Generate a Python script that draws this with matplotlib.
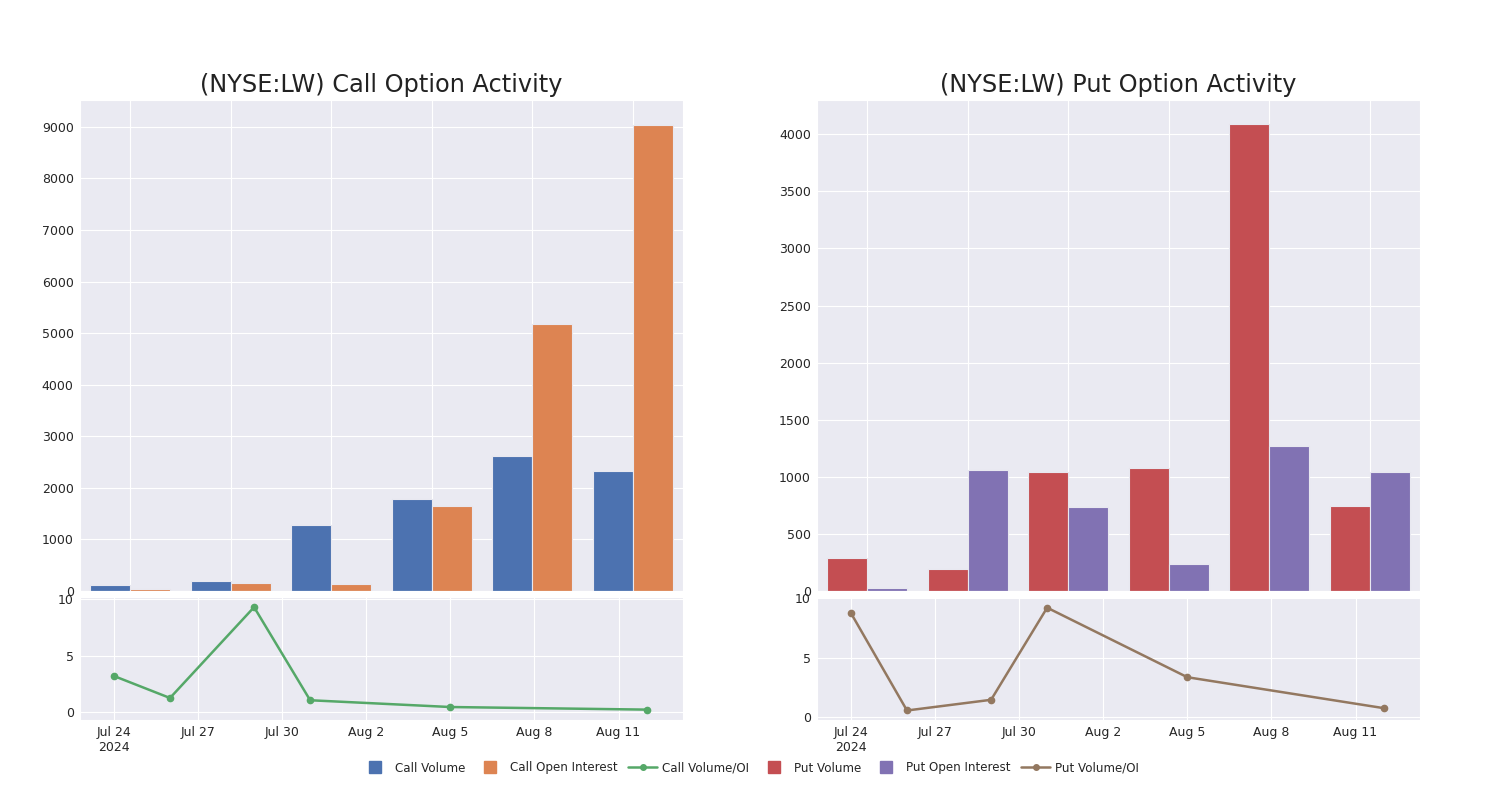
import matplotlib
matplotlib.use("Agg")
import matplotlib.pyplot as plt
from matplotlib.lines import Line2D
import seaborn as sns
import numpy as np
import pandas as pd

sns.set_style("darkgrid")
plt.rcParams['font.family'] = ['DejaVu Sans']

# ---- data ----
categories = ["2024-07-24", "2024-07-26", "2024-07-29", "2024-07-31", "2024-08-05", "2024-08-12"]
call_volume = [116, 194, 1280, 1784, 2618, 2327]
call_oi = [40, 155, 136, 1648, 5178, 9038]
put_volume = [289, 193, 1038, 1073, 4088, 748]
put_oi = [26, 1064, 734, 234, 1268, 1043]
call_ratio = [3.2, 1.25, 9.3, 1.05, 0.45, 0.22]
put_ratio = [8.75, 0.55, 1.45, 9.2, 3.35, 0.75]
tick_dates = ["2024-07-24", "2024-07-27", "2024-07-30", "2024-08-02", "2024-08-05", "2024-08-08", "2024-08-11"]
tick_labels = ["Jul 24\n2024", "Jul 27", "Jul 30", "Aug 2", "Aug 5", "Aug 8", "Aug 11"]
titles = ["(NYSE:LW) Call Option Activity", "(NYSE:LW) Put Option Activity"]
legend_labels = ["Call Volume", "Call Open Interest", "Call Volume/OI",
                 "Put Volume", "Put Open Interest", "Put Volume/OI"]

blue, orange, green = "#4C72B0", "#DD8452", "#55A868"
red, purple, brown = "#C44E52", "#8172B3", "#937860"

dates = pd.to_datetime(categories)
tdates = pd.to_datetime(tick_dates)

fig = plt.figure(figsize=(15, 8), dpi=100)

W = 603 / 1500
lefts = [80 / 1500, 817 / 1500]
bar_b, bar_h = 1 - 591 / 800, (591 - 100) / 800
line_b, line_h = 1 - 720 / 800, (720 - 597) / 800

panels = [
    (call_volume, call_oi, call_ratio, blue, orange, green, 9520, (-0.7, 10.2), np.arange(0, 9001, 1000)),
    (put_volume, put_oi, put_ratio, red, purple, brown, 4300, (-0.25, 10.1), np.arange(0, 4001, 500)),
]

x = np.arange(len(categories))
for i, (v, oi, r, c1, c2, c3, ytop, rlim, yt) in enumerate(panels):
    ax = fig.add_axes([lefts[i], bar_b, W, bar_h])
    ax.bar(x - 0.2, v, width=0.4, color=c1, edgecolor="#e8e8f0", linewidth=0.8)
    ax.bar(x + 0.2, oi, width=0.4, color=c2, edgecolor="#e8e8f0", linewidth=0.8)
    ax.set_xlim(-0.5, len(categories) - 0.5)
    ax.set_ylim(0, ytop)
    ax.set_xticks(x)
    ax.set_xticklabels([])
    ax.set_yticks(yt)
    ax.tick_params(axis='y', labelsize=9, pad=1)
    ax.tick_params(axis='x', length=0)
    ax.set_title(titles[i], fontsize=17.3, pad=6, color="#222222")

    lax = fig.add_axes([lefts[i], line_b, W, line_h])
    lax.plot(dates, r, color=c3, marker='o', markersize=4.5, linewidth=1.8)
    lax.set_ylim(*rlim)
    lax.set_yticks([0, 5, 10])
    lax.set_xlim(pd.Timestamp("2024-07-24") - pd.Timedelta(days=1.21),
                 pd.Timestamp("2024-07-24") + pd.Timedelta(days=20.3))
    lax.set_xticks(tdates)
    lax.set_xticklabels(tick_labels)
    lax.tick_params(axis='y', labelsize=9, pad=1)
    lax.tick_params(axis='x', labelsize=9, pad=1)

handles = [
    Line2D([], [], marker='s', ls='', color=blue, markersize=9),
    Line2D([], [], marker='s', ls='', color=orange, markersize=9),
    Line2D([], [], marker='o', color=green, markersize=4, linewidth=1.8),
    Line2D([], [], marker='s', ls='', color=red, markersize=9),
    Line2D([], [], marker='s', ls='', color=purple, markersize=9),
    Line2D([], [], marker='o', color=brown, markersize=4, linewidth=1.8),
]
fig.legend(handles, legend_labels, loc='center', bbox_to_anchor=(0.5, 1 - 768 / 800), ncol=6,
           frameon=False, fontsize=8.6, handlelength=2.4, columnspacing=0.9, handletextpad=0.45)

fig.savefig("out.png", dpi=100)
